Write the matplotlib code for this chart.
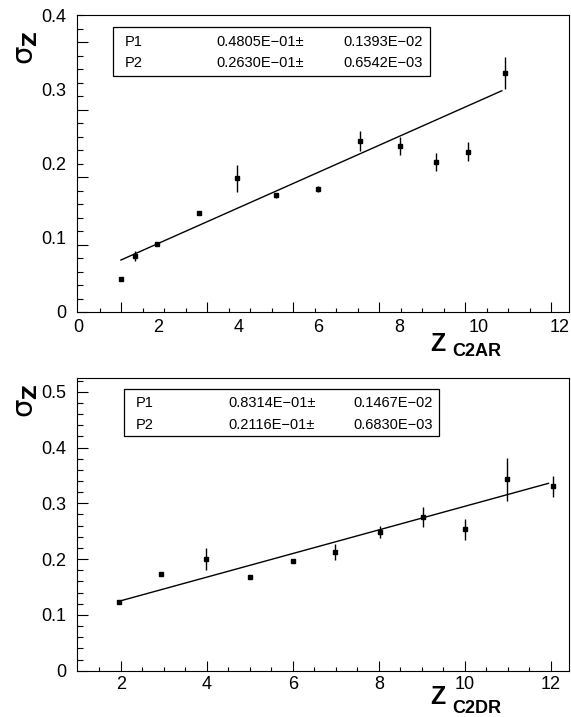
import numpy as np
import matplotlib
matplotlib.use("Agg")
import matplotlib.pyplot as plt
from matplotlib.patches import Rectangle

plt.rcParams['font.family'] = ['Liberation Sans', 'DejaVu Sans']
plt.rcParams['mathtext.fontset'] = 'dejavusans'

# ---------------- data: top panel (Z_C2AR) ----------------
top_x = [1.07, 1.41, 1.96, 3.02, 3.97, 4.93, 5.98, 7.04, 8.04, 8.93, 9.73, 10.65]
top_y = [0.0444, 0.0758, 0.092, 0.133, 0.180, 0.157, 0.166, 0.230, 0.2236, 0.202, 0.216, 0.3223]
top_err = [0.002, 0.0067, 0.002, 0.002, 0.0184, 0.0038, 0.004, 0.0137, 0.0126, 0.0119, 0.0123, 0.0213]
top_fit_x = [1.07, 10.57]
top_fit_y = [0.070, 0.298]
top_xticklabels = ['0', '2', '4', '6', '8', '10', '12']
top_yticklabels = ['0', '0.1', '0.2', '0.3', '0.4']
top_par_names = ['P1', 'P2']
top_par_vals = ['0.4805E\u221201\u00b1', '0.2630E\u221201\u00b1']
top_par_errs = ['0.1393E\u221202', '0.6542E\u221203']
top_xlabel_sub = 'C2AR'

# ---------------- data: bottom panel (Z_C2DR) ----------------
bot_x = [1.95, 2.93, 3.98, 5.01, 5.99, 6.98, 8.02, 9.03, 9.99, 10.97, 12.04]
bot_y = [0.1237, 0.174, 0.2002, 0.1673, 0.197, 0.2133, 0.248, 0.2755, 0.2533, 0.3435, 0.331]
bot_err = [0.002, 0.002, 0.0194, 0.003, 0.002, 0.014, 0.011, 0.0185, 0.0188, 0.0385, 0.0188]
bot_p1 = 0.08314
bot_p2 = 0.02116
bot_fit_range = [1.95, 11.94]
bot_xticklabels = ['2', '4', '6', '8', '10', '12']
bot_yticklabels = ['0', '0.1', '0.2', '0.3', '0.4', '0.5']
bot_par_names = ['P1', 'P2']
bot_par_vals = ['0.8314E\u221201\u00b1', '0.2116E\u221201\u00b1']
bot_par_errs = ['0.1467E\u221202', '0.6830E\u221203']
bot_xlabel_sub = 'C2DR'

W, H = 571, 717
fig = plt.figure(figsize=(W / 100, H / 100), dpi=100)


def fx(px):
    return px / W


def fy(py):
    return 1 - py / H


TICK_FS = 13


def style_axes(ax):
    for s in ax.spines.values():
        s.set_linewidth(0.8)
        s.set_color('black')
    ax.tick_params(which='both', direction='in', top=False, right=False, width=0.8, colors='black')
    ax.tick_params(axis='x', which='major', length=7.2)
    ax.tick_params(axis='x', which='minor', length=2.9)
    ax.tick_params(axis='y', which='major', length=7.7)
    ax.tick_params(axis='y', which='minor', length=4.0)


# ================= top panel =================
ax1 = fig.add_axes([fx(77), fy(312), (569 - 77) / W, (312 - 15) / H])
ppu = 40.1  # px per unit of labels
x0px = 78
ax1.set_xlim(-(x0px - 77) / ppu, (569 - x0px) / ppu)
ax1.set_ylim(0, 0.4)
style_axes(ax1)

# tick marks (drawn on a different grid than the labels, as in the original)
t_all = np.arange(1.5, 12.01, 0.5)
mark_px = 121 + (t_all - 2) * 43
mark_vals = (mark_px - x0px) / ppu
major_mask = np.isclose(t_all % 2, 0)
ax1.set_xticks(mark_vals[major_mask])
ax1.set_xticks(mark_vals[~major_mask], minor=True)
ax1.tick_params(labelbottom=False, labelleft=False)

k = np.arange(0, 23)
yvals = k * 13.5 / 742.5
ax1.set_yticks(yvals[k % 5 == 0])
ax1.set_yticks(yvals[k % 5 != 0], minor=True)

secx = ax1.secondary_xaxis('bottom')
secx.set_xticks([float(s) for s in top_xticklabels])
secx.set_xticklabels(top_xticklabels, fontsize=TICK_FS)
secx.tick_params(length=0, pad=5)
secx.spines['bottom'].set_visible(False)

secy = ax1.secondary_yaxis('left')
secy.set_yticks([float(s) for s in top_yticklabels])
secy.set_yticklabels(top_yticklabels, fontsize=TICK_FS)
secy.tick_params(length=0, pad=8)
secy.spines['left'].set_visible(False)

ax1.errorbar(top_x, top_y, yerr=top_err, fmt='s', ms=2.4, color='black',
             ecolor='black', elinewidth=1.0, capsize=0, zorder=3)
ax1.plot(top_fit_x, top_fit_y, color='black', lw=1.0)

# ================= bottom panel =================
ax2 = fig.add_axes([fx(77.3), fy(670.7), (569 - 77.3) / W, (670.7 - 378) / H])
ax2.set_xlim(0.984, 12.419)
ax2.set_ylim(0, 0.5246)
style_axes(ax2)
ax2.set_xticks([float(s) for s in bot_xticklabels])
ax2.set_xticklabels(bot_xticklabels, fontsize=TICK_FS)
ax2.set_xticks(np.arange(1.5, 12.01, 0.5), minor=True)
ax2.set_yticks([float(s) for s in bot_yticklabels])
ax2.set_yticklabels(bot_yticklabels, fontsize=TICK_FS)
ax2.set_yticks(np.arange(0.02, 0.5246, 0.02), minor=True)
ax2.tick_params(axis='x', which='major', pad=4)
ax2.tick_params(axis='y', which='major', pad=8)

ax2.errorbar(bot_x, bot_y, yerr=bot_err, fmt='s', ms=2.4, color='black',
             ecolor='black', elinewidth=1.0, capsize=0, zorder=3)
fx_line = np.array(bot_fit_range)
ax2.plot(fx_line, bot_p1 + bot_p2 * fx_line, color='black', lw=1.0)

# ================= parameter boxes =================
PAR_FS = 10.5


def par_box(x0, y0, x1, y1, name_x, val_x, err_x, rows_y, names, vals, errs):
    fig.add_artist(Rectangle((fx(x0), fy(y1)), (x1 - x0) / W, (y1 - y0) / H,
                             transform=fig.transFigure, facecolor='white',
                             edgecolor='black', lw=0.9, zorder=5))
    for ry, n, v, e in zip(rows_y, names, vals, errs):
        fig.text(fx(name_x), fy(ry), n, fontsize=PAR_FS, va='center', ha='left', zorder=6)
        fig.text(fx(val_x), fy(ry), v, fontsize=PAR_FS, va='center', ha='left', zorder=6)
        fig.text(fx(err_x), fy(ry), e, fontsize=PAR_FS, va='center', ha='left', zorder=6)


par_box(113, 27, 430, 76, 125, 216.7, 343.3, [42.5, 62.7],
        top_par_names, top_par_vals, top_par_errs)
par_box(124.3, 389.3, 439, 436.3, 135.7, 228.3, 353.3, [403.3, 425],
        bot_par_names, bot_par_vals, bot_par_errs)

# ================= axis titles =================
for ycen in [48, 401]:
    fig.text(fx(26), fy(ycen), r'$\mathrm{\sigma}_{\mathbf{Z}}$', fontsize=21, rotation=90,
             ha='center', va='center')

for (zy, sub, suby) in [(344, top_xlabel_sub, 351.5), (697.5, bot_xlabel_sub, 708.5)]:
    fig.text(fx(437.5), fy(zy), 'Z', fontsize=18, fontweight='bold', ha='center', va='center')
    fig.text(fx(452), fy(suby), sub, fontsize=13, fontweight='bold', ha='left', va='center')

fig.savefig('out.png', dpi=100, facecolor='white')
